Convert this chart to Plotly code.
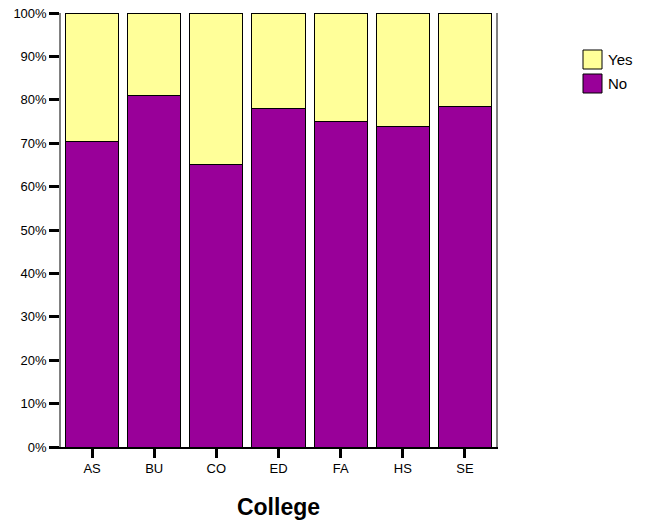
import plotly.graph_objects as go

colleges = ["AS", "BU", "CO", "ED", "FA", "HS", "SE"]
no_pct = [70.3, 80.9, 65.0, 78.1, 75.1, 73.8, 78.5]
yes_pct = [round(100 - v, 1) for v in no_pct]
tick_vals = [0, 10, 20, 30, 40, 50, 60, 70, 80, 90, 100]
tick_text = [f"{v}%" for v in tick_vals]

PURPLE = "#990099"
YELLOW = "#FFFF99"
FONT = "Liberation Sans, Arial, sans-serif"

W, H = 654, 520
L, T = 61, 13
PW, PH = 435, 434

fig = go.Figure()
fig.add_trace(go.Bar(x=colleges, y=no_pct, name="No", marker=dict(color=PURPLE, line=dict(color="black", width=1)), showlegend=False))
fig.add_trace(go.Bar(x=colleges, y=yes_pct, name="Yes", marker=dict(color=YELLOW, line=dict(color="black", width=1)), showlegend=False))

# custom legend (swatches + labels), window pixels converted to paper coords
def px(x):
    return (x - L) / PW

def py(y):
    return (T + PH - y) / PH

legend_items = [("Yes", YELLOW), ("No", PURPLE)]
shapes = []
annotations = []
for i, (lab, col) in enumerate(legend_items):
    y0 = 50 + i * 24
    shapes.append(dict(type="rect", xref="paper", yref="paper",
                       x0=px(583), x1=px(602), y0=py(y0 + 19), y1=py(y0),
                       line=dict(color="black", width=1), fillcolor=col))
    annotations.append(dict(xref="paper", yref="paper", x=px(606),
                            y=py(y0 + 9.5), text=lab, showarrow=False,
                            xanchor="left", yanchor="middle",
                            font=dict(family=FONT, size=15, color="black")))

fig.update_layout(
    width=W, height=H,
    barmode="stack", bargap=0.145,
    margin=dict(l=L, r=W - L - PW, t=T, b=H - T - PH, autoexpand=False),
    plot_bgcolor="white", paper_bgcolor="white",
    font=dict(family=FONT, size=13, color="black"),
    shapes=shapes, annotations=annotations,
    xaxis=dict(showline=True, linecolor="black", linewidth=1.5, automargin=False,
               ticks="outside", ticklen=9, tickwidth=3, tickcolor="black",
               tickfont=dict(family=FONT, size=13, color="black"),
               title=dict(text="<b>College</b>", font=dict(family=FONT, size=23, color="black"), standoff=24),
               showgrid=False),
    yaxis=dict(range=[0, 100], tickvals=tick_vals, ticktext=tick_text, automargin=False,
               showline=True, linecolor="#808080", linewidth=1.5, mirror=True,
               ticks="outside", ticklen=10, tickwidth=3, tickcolor="black",
               tickfont=dict(family=FONT, size=13, color="black"),
               showgrid=False, zeroline=False),
)

fig.write_html("out.html", config={"displayModeBar": False},
               post_script="document.body.style.margin='0';")
